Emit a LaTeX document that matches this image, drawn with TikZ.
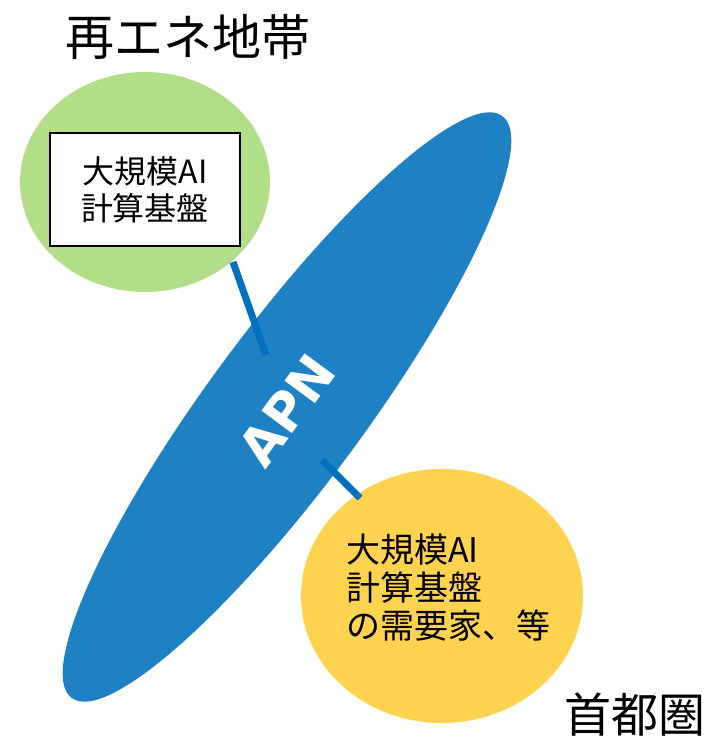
\documentclass[tikz,border=0pt]{standalone}
\usepackage{fontspec}
\setmainfont{Noto Sans CJK JP}
\newfontfamily\apnfont{DejaVu Sans}
\definecolor{greenfill}{RGB}{179,222,136}
\definecolor{yellowfill}{RGB}{255,211,79}
\definecolor{apnblue}{RGB}{29,129,196}
\definecolor{linkblue}{RGB}{0,112,192}
\tikzset{
  link/.style={draw=linkblue, line width=7pt},
  bigtitle/.style={font=\fontsize{49}{49}\selectfont, inner sep=0pt},
  cornertitle/.style={font=\fontsize{47}{47}\selectfont, inner sep=0pt},
  bodytext/.style={font=\fontsize{32}{37}\selectfont, inner sep=0pt},
  demandtext/.style={font=\fontsize{34}{38}\selectfont, inner sep=0pt},
}
\usetikzlibrary{shapes.geometric}
\begin{document}
\begin{tikzpicture}[x=1pt,y=1pt]
\useasboundingbox (0,0) rectangle (708,740);
% green region
\fill[greenfill] (145,558) ellipse [x radius=125, y radius=110];
% yellow region
\fill[yellowfill] (442,144) ellipse [x radius=141, y radius=127];
% APN ellipse
\fill[apnblue, rotate around={53.5:(287,333)}] (287,333) ellipse [x radius=362, y radius=78];
\node[font=\apnfont\bfseries\fontsize{52}{52}\selectfont, text=white, rotate=53.5, inner sep=0pt] (apn) at (287,330) {APN};
% box
\node[draw=black, line width=2pt, fill=white, minimum width=190pt, minimum height=113pt, align=center, bodytext, inner sep=0pt] (box) at (145,550.5) {大規模AI\\計算基盤};
% yellow text
\node[demandtext, align=left, anchor=west] (demand) at (346,152) {大規模AI\\計算基盤\\の需要家、等};
% titles
\node[bigtitle] (t1) at (188,703) {再エネ地帯};
\node[cornertitle] (t2) at (635,25) {首都圏};
% connectors
\coordinate (g1) at (233,478);
\coordinate (b1) at (266,385);
\coordinate (b2) at (322,280);
\coordinate (y2) at (360,242);
\draw[link] (g1) -- (b1);
\draw[link] (b2) -- (y2);
\end{tikzpicture}
\end{document}
